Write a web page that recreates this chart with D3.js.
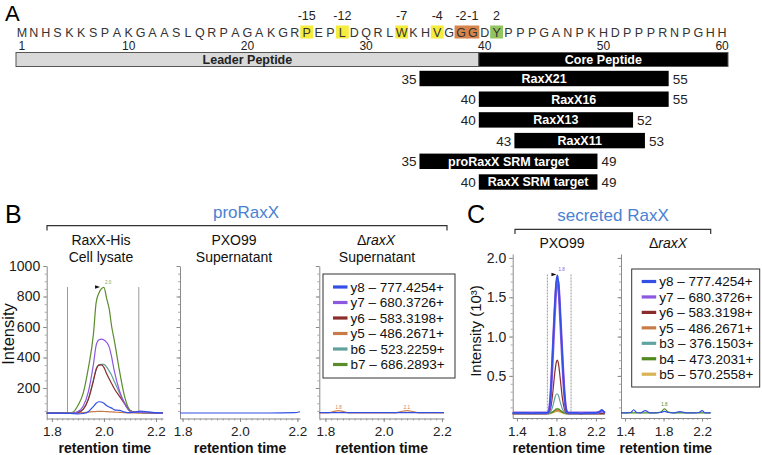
<!DOCTYPE html>
<html><head><meta charset="utf-8">
<script src="https://cdn.jsdelivr.net/npm/d3@7"></script>
<style>body{margin:0;background:#fff} svg{display:block;font-family:"Liberation Sans",Arial,sans-serif}</style>
</head><body><svg id="c" width="762" height="455"></svg>
<script>
// ---------------- Panel A data ----------------
const sequence = "MNHSKKSPAKGAASLQRPAGAKGRPEPLDQRLWKHVGGGDYPPPGANPKHDPPPRNPGHH".split("");
const positionTicks = [1, 10, 20, 30, 40, 50, 60];
const markedResidues = [25, 28, 33, 36, 38, 39, 41];
const markedLabels = ["-15", "-12", "-7", "-4", "-2", "-1", "2"];
const segmentNames = ["Leader Peptide", "Core Peptide"];
const segmentStart = [1, 40];
const segmentEnd = [39, 60];
const peptideNames = ["RaxX21", "RaxX16", "RaxX13", "RaxX11", "proRaxX SRM target", "RaxX SRM target"];
const peptideStart = [35, 40, 40, 43, 35, 40];
const peptideEnd = [55, 55, 52, 53, 49, 49];

// ---------------- Panel B data ----------------
const bTitles = [["RaxX-His", "Cell lysate"], ["PXO99", "Supernatant"], ["ΔraxX", "Supernatant"]];
const bLegend = ["y8 – 777.4254+", "y7 – 680.3726+", "y6 – 583.3198+", "y5 – 486.2671+", "b6 – 523.2259+", "b7 – 686.2893+"];
const bYTicks = [200, 400, 600, 800, 1000];
const bXTicks = [1.8, 2.0, 2.2];
const bTime = [1.78, 1.82, 1.86, 1.88, 1.90, 1.92, 1.94, 1.96, 1.97, 1.98, 1.99, 2.00, 2.01, 2.02, 2.03, 2.04, 2.06, 2.08, 2.10, 2.12, 2.14, 2.16, 2.18, 2.20, 2.227];
const bY8 = [35, 35, 34, 32, 30, 33, 45, 80, 100, 110, 108, 100, 85, 75, 68, 57, 53, 42, 38, 42, 48, 46, 42, 38, 36];
const bY7 = [35, 35, 35, 36, 45, 80, 175, 360, 480, 515, 520, 515, 500, 470, 400, 310, 180, 95, 48, 40, 40, 38, 36, 35, 35];
const bY6 = [35, 35, 35, 36, 40, 60, 125, 250, 320, 350, 352, 335, 295, 260, 228, 195, 145, 95, 50, 40, 42, 40, 38, 35, 35];
const bY5 = [35, 35, 35, 35, 37, 39, 42, 45, 46, 47, 47, 46, 45, 44, 43, 42, 40, 38, 37, 36, 36, 35, 35, 35, 35];
const bB6 = [35, 35, 35, 36, 40, 60, 130, 255, 325, 350, 355, 355, 338, 312, 282, 242, 168, 102, 52, 42, 42, 40, 38, 35, 35];
const bB7 = [35, 35, 35, 40, 85, 165, 330, 560, 760, 820, 850, 860, 790, 720, 600, 510, 310, 140, 55, 40, 38, 37, 36, 35, 35];
const bBounds = [1.86, 2.134];
const b2Time = [1.791, 1.9, 2.0, 2.1, 2.19, 2.209];
const b2Y8 = [36, 36, 36, 36, 38, 44];
const b3Time = [1.779, 1.81, 1.83, 1.845, 1.86, 1.88, 2.04, 2.06, 2.08, 2.10, 2.12, 2.207];
const b3Y8 = [38, 38, 38, 38, 38, 38, 38, 38, 38, 38, 38, 38];
const b3Y5 = [36, 37, 47, 52, 47, 37, 37, 46, 52, 46, 37, 36];

// ---------------- Panel C data ----------------
const cTitles = ["PXO99", "ΔraxX"];
const cLegend = ["y8 – 777.4254+", "y7 – 680.3726+", "y6 – 583.3198+", "y5 – 486.2671+", "b3 – 376.1503+", "b4 – 473.2031+", "b5 – 570.2558+"];
const cYTicks = [0.5, 1.0, 1.5, 2.0];
const cXTicks = [1.4, 1.8, 2.2];
const cTime = [1.357, 1.40, 1.45, 1.50, 1.55, 1.60, 1.65, 1.70, 1.72, 1.74, 1.76, 1.78, 1.80, 1.81, 1.82, 1.84, 1.86, 1.88, 1.90, 1.92, 1.95, 2.00, 2.05, 2.10, 2.15, 2.20, 2.24, 2.26, 2.29];
const cY8 = [0.03, 0.03, 0.03, 0.03, 0.025, 0.03, 0.03, 0.03, 0.04, 0.25, 0.75, 1.3, 1.72, 1.78, 1.70, 1.25, 0.75, 0.30, 0.06, 0.03, 0.03, 0.03, 0.02, 0.03, 0.03, 0.03, 0.05, 0.07, 0.03];
const cY7 = [0.03, 0.03, 0.03, 0.03, 0.03, 0.03, 0.03, 0.03, 0.04, 0.22, 0.70, 1.24, 1.66, 1.72, 1.66, 1.22, 0.72, 0.28, 0.06, 0.03, 0.03, 0.03, 0.03, 0.03, 0.03, 0.03, 0.04, 0.05, 0.03];
const cY6 = [0.02, 0.02, 0.02, 0.02, 0.02, 0.02, 0.02, 0.02, 0.03, 0.08, 0.25, 0.50, 0.68, 0.70, 0.66, 0.45, 0.22, 0.08, 0.03, 0.02, 0.02, 0.02, 0.02, 0.02, 0.02, 0.02, 0.02, 0.02, 0.02];
const cY5 = [0.02, 0.02, 0.02, 0.02, 0.02, 0.02, 0.02, 0.02, 0.02, 0.03, 0.04, 0.05, 0.06, 0.06, 0.06, 0.05, 0.04, 0.03, 0.02, 0.02, 0.02, 0.02, 0.02, 0.02, 0.02, 0.02, 0.02, 0.02, 0.02];
const cB3 = [0.02, 0.02, 0.02, 0.02, 0.02, 0.02, 0.02, 0.02, 0.02, 0.04, 0.10, 0.20, 0.27, 0.27, 0.25, 0.16, 0.08, 0.04, 0.02, 0.02, 0.02, 0.02, 0.02, 0.02, 0.02, 0.02, 0.02, 0.02, 0.02];
const cB4 = [0.02, 0.02, 0.02, 0.02, 0.02, 0.02, 0.02, 0.02, 0.02, 0.03, 0.04, 0.06, 0.08, 0.08, 0.08, 0.06, 0.04, 0.03, 0.02, 0.02, 0.02, 0.02, 0.02, 0.02, 0.02, 0.02, 0.02, 0.02, 0.02];
const cB5 = [0.02, 0.02, 0.02, 0.02, 0.02, 0.02, 0.02, 0.02, 0.02, 0.02, 0.03, 0.04, 0.05, 0.05, 0.05, 0.04, 0.03, 0.02, 0.02, 0.02, 0.02, 0.02, 0.02, 0.02, 0.02, 0.02, 0.02, 0.02, 0.02];
const cBounds = [1.708, 1.948];
const c2Time = [1.358, 1.42, 1.46, 1.49, 1.52, 1.56, 1.61, 1.66, 1.72, 1.77, 1.81, 1.85, 1.90, 1.97, 2.05, 2.12, 2.17, 2.20, 2.23, 2.29];
const c2Y8 = [0.03, 0.03, 0.035, 0.07, 0.035, 0.03, 0.06, 0.03, 0.03, 0.035, 0.05, 0.035, 0.03, 0.045, 0.03, 0.03, 0.035, 0.06, 0.03, 0.03];
const c2B4 = [0.03, 0.03, 0.03, 0.03, 0.03, 0.03, 0.03, 0.03, 0.03, 0.04, 0.08, 0.04, 0.03, 0.03, 0.03, 0.03, 0.03, 0.03, 0.03, 0.03];

// ---------------- Styles ----------------
const COL = {
  y8: "#3250e6", y7: "#8c58e0", y6: "#8b2c2c", y5: "#c97b47", b6: "#62a09c", b7: "#5a8c2c",
  b3: "#5ea4a2", b4: "#4f8a1c", b5: "#d9b455"
};
const bColors = [COL.y8, COL.y7, COL.y6, COL.y5, COL.b6, COL.b7];
const cColors = [COL.y8, COL.y7, COL.y6, COL.y5, COL.b3, COL.b4, COL.b5];
const markColor = { "-15": "#f6ec3c", "-12": "#f6ec3c", "-7": "#f6ec3c", "-4": "#f6ec3c", "-2": "#d8854c", "-1": "#d8854c", "2": "#93c45f" };
const BLUE = "#4a82d2";
const AX = "#8a8a8a";

const svg = d3.select("#c");

// ================= Panel A =================
const xA = d3.scaleBand().domain(d3.range(1, 61)).range([16, 728]);
const bw = xA.bandwidth();
const gA = svg.append("g");
gA.append("text").attr("x", 5).attr("y", 20.5).attr("font-size", 22).text("A");

gA.selectAll("rect.mark").data(markedResidues).join("rect")
  .attr("x", (d) => xA(d) - 0.5).attr("y", 25.5).attr("width", bw + 1).attr("height", 13)
  .attr("fill", (d, i) => markColor[markedLabels[i]]);
gA.selectAll("text.ml").data(markedResidues).join("text")
  .attr("x", (d) => xA(d) + bw / 2).attr("y", 19.5).attr("text-anchor", "middle")
  .attr("font-size", 12.5).attr("fill", "#222").text((d, i) => markedLabels[i]);
gA.selectAll("text.aa").data(sequence).join("text")
  .attr("x", (d, i) => xA(i + 1) + bw / 2).attr("y", 36.5).attr("text-anchor", "middle")
  .attr("font-size", 12.5).attr("fill", "#333").text((d) => d);
gA.selectAll("text.pos").data(positionTicks).join("text")
  .attr("x", (d) => xA(d) + bw / 2).attr("y", 50.3).attr("text-anchor", "middle")
  .attr("font-size", 12).attr("fill", "#222").text((d) => d);

segmentNames.forEach((name, i) => {
  const x0 = xA(segmentStart[i]), x1 = xA(segmentEnd[i]) + bw;
  gA.append("rect").attr("x", x0).attr("y", 52.5).attr("width", x1 - x0).attr("height", 14)
    .attr("fill", i === 0 ? "#d9d9d9" : "#000").attr("stroke", "#555").attr("stroke-width", 1);
  gA.append("text").attr("x", (x0 + x1) / 2).attr("y", 63.8).attr("text-anchor", "middle")
    .attr("font-size", 12.5).attr("font-weight", "bold").attr("fill", i === 0 ? "#222" : "#fff").text(name);
});

const yRow = d3.scalePoint().domain(peptideNames).range([78.5, 182]);
peptideNames.forEach((name, i) => {
  const x0 = xA(peptideStart[i]), x1 = xA(peptideEnd[i]) + bw, yc = yRow(name);
  gA.append("rect").attr("x", x0).attr("y", yc - 7.7).attr("width", x1 - x0).attr("height", 15.4).attr("fill", "#000");
  gA.append("text").attr("x", (x0 + x1) / 2).attr("y", yc + 4.3).attr("text-anchor", "middle")
    .attr("font-size", 12.5).attr("font-weight", "bold").attr("fill", "#fff").text(name);
  gA.append("text").attr("x", x0 - 3).attr("y", yc + 5).attr("text-anchor", "end")
    .attr("font-size", 13.5).attr("fill", "#222").text(peptideStart[i]);
  gA.append("text").attr("x", x1 + 4).attr("y", yc + 5)
    .attr("font-size", 13.5).attr("fill", "#222").text(peptideEnd[i]);
});

// ================= helpers =================
function drawAxes(g, x, y, o) {
  const yr = y.range(), xr = x.range();
  const ya = g.append("g").attr("transform", `translate(${xr[0]},0)`);
  ya.call(d3.axisLeft(y).tickValues(o.yMinor).tickSize(2).tickFormat("").tickSizeOuter(0));
  ya.selectAll("line").attr("stroke", "#aaa");
  ya.select(".domain").remove();
  const yb = g.append("g").attr("transform", `translate(${xr[0]},0)`);
  yb.call(d3.axisLeft(y).tickValues(o.yTicks).tickSize(3.5).tickSizeOuter(0)
    .tickFormat(o.yLabels ? o.yFmt : ""));
  yb.select(".domain").attr("stroke", AX);
  yb.selectAll("line").attr("stroke", AX);
  yb.selectAll("text").attr("font-size", 14).attr("fill", "#222").attr("font-family", "Liberation Sans, Arial, sans-serif");
  const xa = g.append("g").attr("transform", `translate(0,${yr[0]})`);
  xa.call(d3.axisBottom(x).tickValues(o.xMinor).tickSize(2).tickFormat("").tickSizeOuter(0));
  xa.selectAll("line").attr("stroke", "#aaa");
  xa.select(".domain").remove();
  const xb = g.append("g").attr("transform", `translate(0,${yr[0]})`);
  xb.call(d3.axisBottom(x).tickValues(o.xTicks).tickSize(3.5).tickSizeOuter(0).tickFormat(d3.format(".1f")));
  xb.select(".domain").attr("stroke", AX);
  xb.selectAll("line").attr("stroke", AX);
  xb.selectAll("text").attr("font-size", 13.5).attr("fill", "#222").attr("dy", "0.85em")
    .attr("font-family", "Liberation Sans, Arial, sans-serif");
  g.append("text").attr("x", (xr[0] + xr[1]) / 2).attr("y", 453).attr("text-anchor", "middle")
    .attr("font-size", 14).attr("font-weight", "bold").attr("fill", "#111").text("retention time");
}
function trace(g, x, y, times, vals, color, w) {
  const line = d3.line().x((d, i) => x(times[i])).y((d) => y(d)).curve(d3.curveMonotoneX);
  g.append("path").attr("d", line(vals)).attr("fill", "none").attr("stroke", color)
    .attr("stroke-width", w || 1.2).attr("stroke-linejoin", "round");
}
function legend(g, x0, y0, w, h, labels, colors, rowY, fs) {
  g.append("rect").attr("x", x0).attr("y", y0).attr("width", w).attr("height", h)
    .attr("fill", "#fff").attr("stroke", "#333").attr("stroke-width", 1);
  labels.forEach((lab, i) => {
    const yy = rowY(i);
    g.append("line").attr("x1", x0 + 10).attr("x2", x0 + 24.5).attr("y1", yy).attr("y2", yy)
      .attr("stroke", colors[i]).attr("stroke-width", 3.2);
    g.append("text").attr("x", x0 + 27.5).attr("y", yy + 4.8).attr("font-size", fs).attr("fill", "#111").text(lab);
  });
}
function deltaText(g, x, y, label) {
  const t = g.append("text").attr("x", x).attr("y", y).attr("text-anchor", "middle").attr("font-size", 14).attr("fill", "#111");
  t.append("tspan").text(label.slice(0, 1));
  t.append("tspan").attr("font-style", "italic").text(label.slice(1));
}

// ================= Panel B =================
const gB = svg.append("g");
gB.append("text").attr("x", 5).attr("y", 223).attr("font-size", 25).text("B");
gB.append("text").attr("x", 246).attr("y", 218).attr("text-anchor", "middle").attr("font-size", 17).attr("fill", BLUE).text("proRaxX");
gB.append("path").attr("d", "M47,230.5V225.7H447V230.5").attr("fill", "none").attr("stroke", "#333").attr("stroke-width", 1.2);
[[101, bTitles[0]], [234, bTitles[1]]].forEach(([cx, t]) => {
  gB.append("text").attr("x", cx).attr("y", 244.5).attr("text-anchor", "middle").attr("font-size", 14).attr("fill", "#111").text(t[0]);
  gB.append("text").attr("x", cx).attr("y", 261.5).attr("text-anchor", "middle").attr("font-size", 14).attr("fill", "#111").text(t[1]);
});
deltaText(gB, 376, 244.5, bTitles[2][0]);
gB.append("text").attr("x", 377).attr("y", 261.5).attr("text-anchor", "middle").attr("font-size", 14).attr("fill", "#111").text(bTitles[2][1]);
gB.append("text").attr("transform", "translate(14,334) rotate(-90)").attr("text-anchor", "middle")
  .attr("font-size", 16.5).attr("fill", "#111").text("Intensity");

const yB = d3.scaleLinear().domain([0, 1000]).range([418.5, 266]);
const bOpts = {
  yTicks: bYTicks, yMinor: d3.range(50, 1001, 50), yFmt: d3.format("d"),
  xTicks: bXTicks, xMinor: d3.range(1.78, 2.221, 0.02)
};
const xB1 = d3.scaleLinear().domain([1.78, 2.227]).range([46.7, 163]);
const gB1 = gB.append("g");
drawAxes(gB1, xB1, yB, Object.assign({}, bOpts, { yLabels: true }));
bBounds.forEach((t) => gB1.append("line").attr("x1", xB1(t)).attr("x2", xB1(t)).attr("y1", yB(862)).attr("y2", yB(30))
  .attr("stroke", "#9a9a9a").attr("stroke-width", 1));
trace(gB1, xB1, yB, bTime, bY5, COL.y5);
trace(gB1, xB1, yB, bTime, bB6, COL.b6);
trace(gB1, xB1, yB, bTime, bY6, COL.y6);
trace(gB1, xB1, yB, bTime, bB7, COL.b7);
trace(gB1, xB1, yB, bTime, bY7, COL.y7);
trace(gB1, xB1, yB, bTime, bY8, COL.y8);
gB1.append("path").attr("d", `M${xB1(1.985)},${yB(862)}l-5,-1.8v3.6z`).attr("fill", "#111");
gB1.append("text").attr("x", xB1(2.0) + 1).attr("y", yB(880)).attr("font-size", 4.5).attr("fill", "#7aa05a").text("2.0");

const xB2 = d3.scaleLinear().domain([1.791, 2.209]).range([180, 300]);
const gB2 = gB.append("g");
drawAxes(gB2, xB2, yB, Object.assign({}, bOpts, { yLabels: false, xMinor: d3.range(1.8, 2.21, 0.02) }));
trace(gB2, xB2, yB, b2Time, b2Y8, COL.y8);

const xB3 = d3.scaleLinear().domain([1.779, 2.207]).range([319.3, 444]);
const gB3 = gB.append("g");
drawAxes(gB3, xB3, yB, Object.assign({}, bOpts, { yLabels: false, xMinor: d3.range(1.78, 2.21, 0.02) }));
trace(gB3, xB3, yB, b3Time, b3Y5, COL.y5);
trace(gB3, xB3, yB, b3Time, b3Y8, COL.y8);
gB3.append("text").attr("x", xB3(1.845)).attr("y", yB(62)).attr("text-anchor", "middle").attr("font-size", 4.5).attr("fill", "#c97b47").text("1.8");
gB3.append("text").attr("x", xB3(2.08)).attr("y", yB(62)).attr("text-anchor", "middle").attr("font-size", 4.5).attr("fill", "#c97b47").text("2.1");
legend(gB, 323, 274, 132, 104, bLegend, bColors, (i) => 287 + i * 15.5, 13.5);

// ================= Panel C =================
const gC = svg.append("g");
gC.append("text").attr("x", 467).attr("y", 223).attr("font-size", 25).text("C");
gC.append("text").attr("x", 613).attr("y", 220.5).attr("text-anchor", "middle").attr("font-size", 17).attr("fill", BLUE).text("secreted RaxX");
gC.append("path").attr("d", "M515,234V229.3H710.7V234").attr("fill", "none").attr("stroke", "#333").attr("stroke-width", 1.2);
gC.append("text").attr("x", 562).attr("y", 248).attr("text-anchor", "middle").attr("font-size", 14).attr("fill", "#111").text(cTitles[0]);
deltaText(gC, 668, 248, cTitles[1]);
gC.append("text").attr("transform", "translate(481,331) rotate(-90)").attr("text-anchor", "middle")
  .attr("font-size", 15).attr("fill", "#111").text("Intensity (10³)");

const yC = d3.scaleLinear().domain([-0.035, 2.05]).range([418, 254]);
const cOpts = {
  yTicks: cYTicks, yMinor: d3.range(0.1, 2.01, 0.1), yFmt: d3.format(".1f"),
  xTicks: cXTicks, xMinor: d3.range(1.4, 2.29, 0.05)
};
const xC1 = d3.scaleLinear().domain([1.357, 2.29]).range([512.7, 604.8]);
const gC1 = gC.append("g");
drawAxes(gC1, xC1, yC, Object.assign({}, cOpts, { yLabels: true }));
cBounds.forEach((t) => gC1.append("line").attr("x1", xC1(t)).attr("x2", xC1(t)).attr("y1", yC(1.79)).attr("y2", yC(0.02))
  .attr("stroke", "#9a9a9a").attr("stroke-width", 1).attr("stroke-dasharray", "2,1"));
trace(gC1, xC1, yC, cTime, cB5, COL.b5, 1.4);
trace(gC1, xC1, yC, cTime, cY5, COL.y5);
trace(gC1, xC1, yC, cTime, cB4, COL.b4, 1.4);
trace(gC1, xC1, yC, cTime, cB3, COL.b3);
trace(gC1, xC1, yC, cTime, cY6, COL.y6);
trace(gC1, xC1, yC, cTime, cY7, COL.y7, 2.6);
trace(gC1, xC1, yC, cTime, cY8, COL.y8, 1.6);
gC1.append("path").attr("d", `M${xC1(1.80)},${yC(1.79)}l-5,-1.8v3.6z`).attr("fill", "#111");
gC1.append("text").attr("x", xC1(1.82)).attr("y", yC(1.83)).attr("font-size", 4.5).attr("fill", "#8c58e0").text("1.8");

const xC2 = d3.scaleLinear().domain([1.358, 2.29]).range([621, 710.7]);
const gC2 = gC.append("g");
drawAxes(gC2, xC2, yC, Object.assign({}, cOpts, { yLabels: false }));
trace(gC2, xC2, yC, c2Time, c2B4, COL.b4);
trace(gC2, xC2, yC, c2Time, c2Y8, COL.y8);
gC2.append("text").attr("x", xC2(1.81)).attr("y", yC(0.12)).attr("text-anchor", "middle").attr("font-size", 4.5).attr("fill", "#4f8a1c").text("1.8");
legend(gC, 631.7, 269, 128, 118, cLegend, cColors, (i) => 281.5 + i * 15.45, 13.5);
</script></body></html>
